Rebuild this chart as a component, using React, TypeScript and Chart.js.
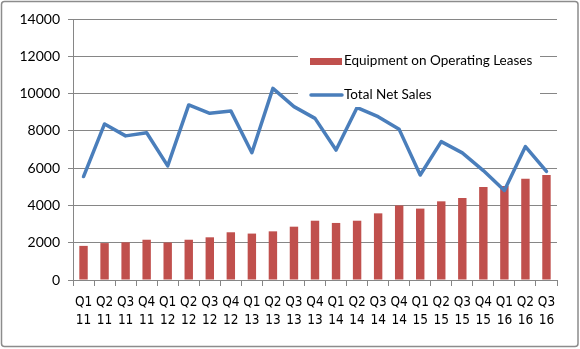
import React, { useEffect, useRef } from 'react';
import { Chart, registerables } from 'chart.js';

Chart.register(...registerables);

const quarters = ['Q1', 'Q2', 'Q3', 'Q4', 'Q1', 'Q2', 'Q3', 'Q4', 'Q1', 'Q2', 'Q3', 'Q4', 'Q1', 'Q2', 'Q3', 'Q4', 'Q1', 'Q2', 'Q3', 'Q4', 'Q1', 'Q2', 'Q3'];
const years = ['11', '11', '11', '11', '12', '12', '12', '12', '13', '13', '13', '13', '14', '14', '14', '14', '15', '15', '15', '15', '16', '16', '16'];
const equipmentLeases = [1830, 1980, 2020, 2160, 2010, 2160, 2290, 2560, 2490, 2610, 2860, 3180, 3060, 3180, 3575, 4000, 3830, 4220, 4400, 4990, 5040, 5430, 5630];
const totalNetSales = [5550, 8370, 7730, 7900, 6120, 9390, 8940, 9070, 6830, 10280, 9300, 8670, 6970, 9250, 8760, 8080, 5630, 7420, 6820, 5870, 4800, 7160, 5830];
const yMin = 0;
const yMax = 14000;
const yStep = 2000;
const seriesNames = ['Equipment on Operating Leases', 'Total Net Sales'];

const FONT = 'Lato, "Open Sans", sans-serif';
const NARROW = '"Liberation Sans Narrow", "DejaVu Sans Condensed", Lato, sans-serif';
const RED = '#C0504D';
const BLUE = '#4A7EBB';
const GRID = '#868686';

const frameAndLegend = {
  id: 'frameAndLegend',
  beforeDraw(chart: any) {
    const { ctx, width, height } = chart;
    ctx.save();
    ctx.fillStyle = '#fff';
    ctx.fillRect(0, 0, width, height);
    ctx.restore();
  },
  afterDraw(chart: any) {
    const { ctx, width, height, chartArea } = chart;
    ctx.save();
    // outer frame
    ctx.strokeStyle = '#8c8c8c';
    ctx.lineWidth = 1.5;
    ctx.beginPath();
    const r = 3;
    const x0 = 1.5, y0 = 1.5, x1 = width - 2, y1 = height - 2.5;
    ctx.moveTo(x0 + r, y0);
    ctx.lineTo(x1 - r, y0);
    ctx.quadraticCurveTo(x1, y0, x1, y0 + r);
    ctx.lineTo(x1, y1 - r);
    ctx.quadraticCurveTo(x1, y1, x1 - r, y1);
    ctx.lineTo(x0 + r, y1);
    ctx.quadraticCurveTo(x0, y1, x0, y1 - r);
    ctx.lineTo(x0, y0 + r);
    ctx.quadraticCurveTo(x0, y0, x0 + r, y0);
    ctx.stroke();

    // legend box
    const lx = chartArea.right - 259;
    const ly = chartArea.top + 8;
    ctx.fillStyle = '#fff';
    ctx.fillRect(lx, ly, 242, 80);
    const sx = lx + 12;
    ctx.fillStyle = RED;
    ctx.fillRect(sx, ly + 31, 32, 7);
    ctx.strokeStyle = BLUE;
    ctx.lineWidth = 3.5;
    ctx.lineCap = 'round';
    ctx.beginPath();
    ctx.moveTo(sx + 1, ly + 68);
    ctx.lineTo(sx + 32, ly + 68);
    ctx.stroke();
    ctx.fillStyle = '#000';
    ctx.font = '13.5px ' + FONT;
    ctx.textBaseline = 'middle';
    ctx.textAlign = 'left';
    ctx.fillText(seriesNames[0], sx + 34, ly + 34);
    ctx.fillText(seriesNames[1], sx + 34, ly + 67.5);
    ctx.restore();
  },
};

export default function App() {
  const ref = useRef<HTMLCanvasElement | null>(null);
  useEffect(() => {
    document.body.style.margin = '0';
    const canvas = ref.current;
    if (!canvas) return;
    const labels = quarters.map((q, i) => [q, years[i]]);
    const chart = new Chart(canvas, {
      type: 'bar',
      data: {
        labels,
        datasets: [
          {
            type: 'line',
            label: seriesNames[1],
            data: totalNetSales,
            borderColor: BLUE,
            backgroundColor: BLUE,
            borderWidth: 3.5,
            pointRadius: 0,
            tension: 0,
            borderJoinStyle: 'round',
            borderCapStyle: 'round',
            order: 1,
          } as any,
          {
            type: 'bar',
            label: seriesNames[0],
            data: equipmentLeases,
            backgroundColor: RED,
            borderWidth: 0,
            categoryPercentage: 1,
            barPercentage: 0.4,
            order: 2,
          },
        ],
      },
      options: {
        responsive: false,
        animation: false,
        devicePixelRatio: 1,
        layout: { padding: { left: 0, top: 19, right: 23, bottom: 0 } },
        plugins: {
          legend: { display: false },
          tooltip: { enabled: false },
        },
        scales: {
          x: {
            grid: {
              display: true,
              drawOnChartArea: false,
              drawTicks: true,
              tickLength: 6,
              color: GRID,
              offset: true,
            },
            border: { display: true, color: GRID, width: 1 },
            ticks: {
              color: '#000',
              font: { family: NARROW, size: 13.5, lineHeight: 1.33 },
              padding: 8,
              maxRotation: 0,
              minRotation: 0,
              autoSkip: false,
            },
            afterFit(scale: any) {
              scale.height = 69;
            },
          },
          y: {
            min: yMin,
            max: yMax,
            ticks: {
              stepSize: yStep,
              color: '#000',
              font: { family: FONT, size: 14 },
              padding: 8,
              callback: (v: any) => String(v),
            },
            grid: {
              color: GRID,
              tickLength: 5,
              drawTicks: true,
            },
            border: { display: true, color: GRID, width: 1 },
            afterFit(scale: any) {
              scale.width = 73;
            },
          },
        },
      },
      plugins: [frameAndLegend],
    });
    return () => chart.destroy();
  }, []);
  return <canvas ref={ref} width={580} height={349} style={{ display: 'block' }} />;
}
